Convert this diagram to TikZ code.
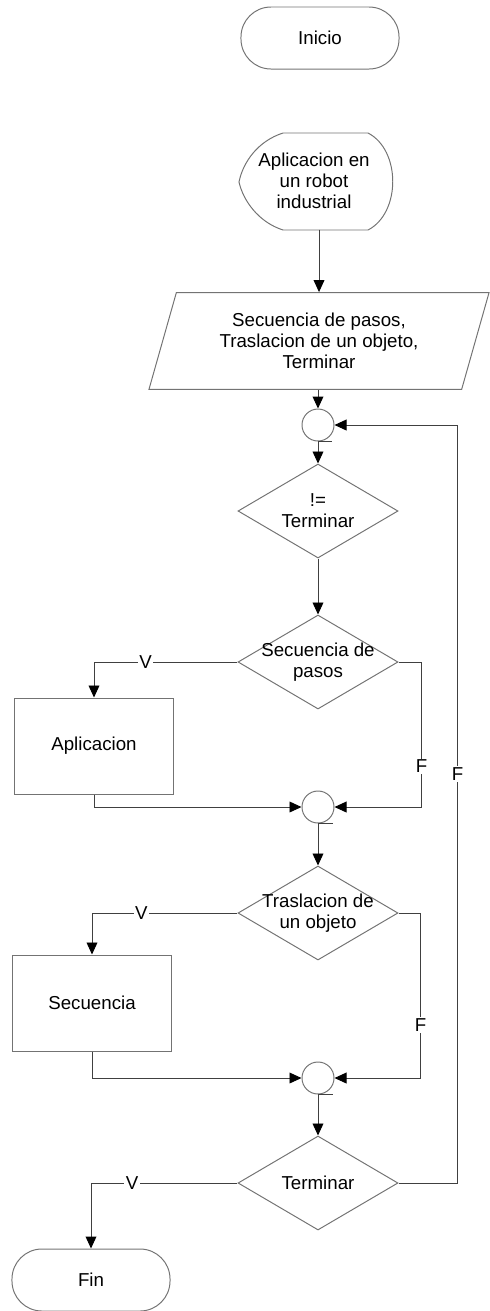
\documentclass[tikz,border=0pt]{standalone}
\usepackage{fontspec}
\setmainfont{Liberation Sans}
\usetikzlibrary{shapes.geometric,arrows.meta}

\begin{document}
\begin{tikzpicture}[x=0.025cm,y=-0.025cm,
    font=\fontsize{13.3}{15}\selectfont,
    caja/.style={draw=black!55,line width=0.7pt,align=center,inner sep=2pt},
    terminal/.style={caja,rounded corners=0.75cm,minimum width=3.95cm,minimum height=1.55cm},
    proceso/.style={caja,minimum width=3.95cm,minimum height=2.4cm},
    entrada/.style={caja,trapezium,trapezium left angle=66,trapezium right angle=114,
        trapezium stretches body,minimum width=8.5cm,minimum height=2.42cm},
    decision/.style={caja,diamond,minimum width=4cm,minimum height=2.35cm,inner sep=0pt},
    conector/.style={caja,circle,minimum size=0.8cm,inner sep=0pt},
    linea/.style={draw=black!75,line width=0.7pt},
    flecha/.style={linea,-{Triangle[length=0.3cm,width=0.27cm,color=black]}},
    etiq/.style={fill=white,inner sep=1pt}]
    \useasboundingbox (0,0) rectangle (490,1311);

    % 开始
    \node[terminal] (inicio) at (320,38) {Inicio};

    % 显示框
    \node[align=center,minimum width=3.85cm,minimum height=2.42cm] (app) at (314,181)
        {Aplicacion en\\un robot\\industrial};
    \draw[draw=black!55,line width=0.7pt] (283,133) -- (368,133)
        .. controls (401,150) and (401,213) .. (368,230) -- (283,230)
        .. controls (258,222) and (243,200) .. (239,182)
        .. controls (243,162) and (258,141) .. (283,133) -- cycle;

    % 输入
    \node[entrada] (datos) at (319,341)
        {Secuencia de pasos,\\Traslacion de un objeto,\\Terminar};

    % 连接点与判断
    \node[conector] (c1) at (318,425) {};
    \node[decision,label={[align=center]center:!=\\Terminar}] (d1) at (318,511) {};
    \node[decision,label={[align=center]center:Secuencia de\\pasos}] (d2) at (318,662) {};
    \node[proceso] (aplic) at (94,746) {Aplicacion};
    \node[conector] (c2) at (318,807) {};
    \node[decision,label={[align=center]center:Traslacion de\\un objeto}] (d3) at (318,913) {};
    \node[proceso] (secu) at (92,1003) {Secuencia};
    \node[conector] (c3) at (318,1078) {};
    \node[decision,label={center:Terminar}] (d4) at (318,1183) {};

    % 结束
    \node[terminal] (fin) at (91,1280) {Fin};

    % 主线
    \draw[flecha] (app.south -| datos.north) -- (datos.north);
    \draw[flecha] (datos.south -| c1.north) -- (c1.north);
    \draw[flecha] (c1.south) -- (d1.north);
    \draw[flecha] (d1.south) -- (d2.north);
    \draw[flecha] (c2.south) -- (d3.north);
    \draw[flecha] (c3.south) -- (d4.north);

    % 分支 V / F
    \draw[flecha] (d2.west) -| node[etiq,pos=0.32]{V} (aplic.north);
    \draw[flecha] (d2.east) -- ++(23,0) |- node[etiq,pos=0.36]{F} (c2.east);
    \draw[flecha] (aplic.south) |- (c2.west);

    \draw[flecha] (d3.west) -| node[etiq,pos=0.33]{V} (secu.north);
    \draw[flecha] (d3.east) -- ++(22,0) |- node[etiq,pos=0.34]{F} (c3.east);
    \draw[flecha] (secu.south) |- (c3.west);

    \draw[flecha] (d4.west) -| node[etiq,pos=0.36]{V} (fin.north);
    \draw[flecha] (d4.east) -- ++(59,0) |- node[etiq,pos=0.27]{F} (c1.east);

    % 连接点下的短线
    \draw[linea] (c1.south) -- ++(14,0);
    \draw[linea] (c2.south) -- ++(15,0);
    \draw[linea] (c3.south) -- ++(15,0);
\end{tikzpicture}
\end{document}
